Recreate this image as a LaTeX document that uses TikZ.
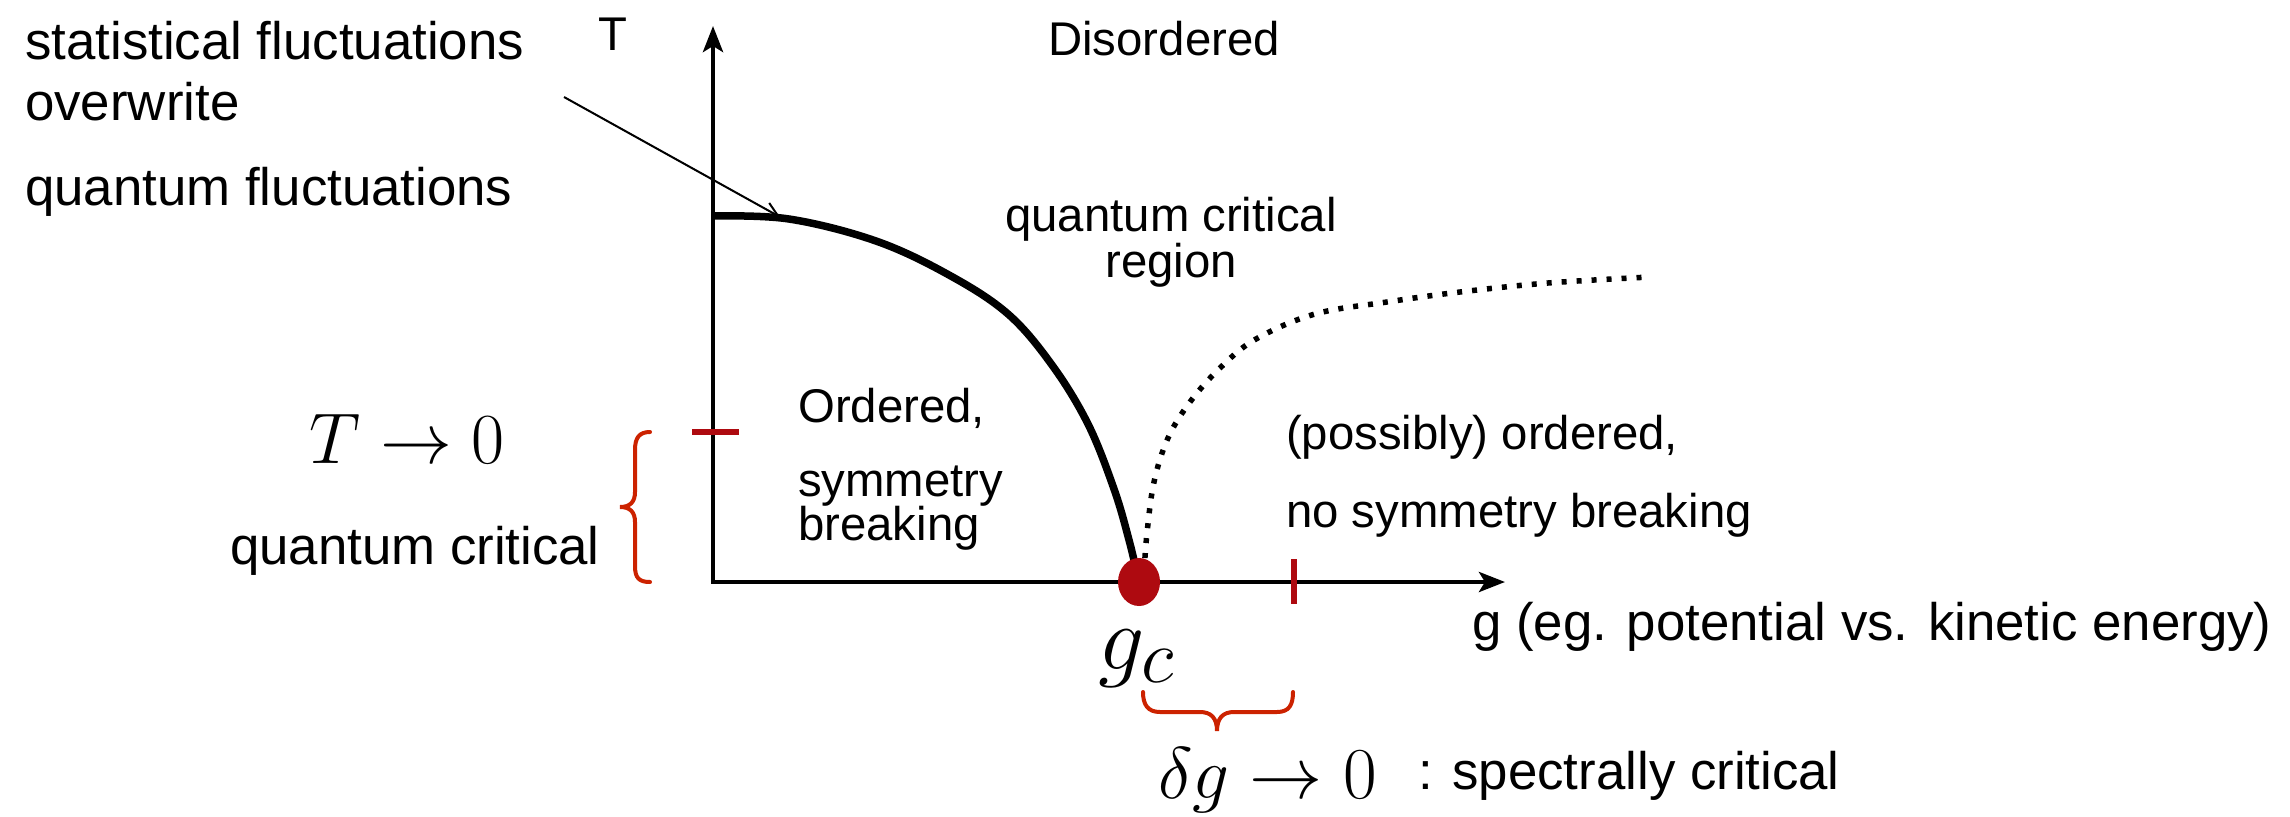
\documentclass[tikz,border=0pt]{standalone}
\usepackage{graphicx}
\usepackage{fontspec}
\setmainfont{Liberation Sans}
\usetikzlibrary{arrows.meta,shapes.geometric}
\definecolor{dred}{HTML}{AE0A10}
\definecolor{bred}{HTML}{CC2200}
\newcommand{\bigmath}[2]{\scalebox{#1}{\fontsize{24.88}{28}\selectfont$#2$}}
\begin{document}
\begin{tikzpicture}[x=1bp,y=-1bp,
  lbl/.style={inner sep=0pt, font=\fontsize{47.5}{52}\selectfont},
  big/.style={inner sep=0pt, font=\fontsize{53}{58}\selectfont},
  mth/.style={inner sep=0pt},
  axis/.style={line width=4.5bp, {Stealth[length=26bp,width=20bp,inset=6bp]}-{Stealth[length=26bp,width=20bp,inset=6bp]}},
  phase/.style={line width=7.5bp},
  crossover/.style={line width=5.5bp, dash pattern=on 5bp off 10bp},
  pointer/.style={line width=2bp, -{Straight Barb[length=14bp,width=14bp]}},
  tick/.style={line width=6bp, dred},
  brace/.style={line width=4bp, bred, line cap=round}]
\useasboundingbox (0,0) rectangle (2290,816);

% axes
\coordinate (Ttip) at (713,26);
\coordinate (O) at (713,582);
\coordinate (gtip) at (1505,582);
\draw[axis] (Ttip) -- (O) -- (gtip);

% phase boundary
\coordinate (pb0) at (713,216);
\coordinate (gc) at (1139,582);
\draw[phase] plot[smooth, tension=0.6] coordinates {(pb0) (789,219) (876,241) (949,275) (1008,314) (1052,365) (1088,424) (1114,489) (1129,540) (gc)};

% crossover (dotted)
\draw[crossover] plot[smooth, tension=0.6] coordinates {(1144,573) (1147,533) (1154,482) (1168,438) (1190,402) (1220,368) (1256,339) (1315,314) (1387,302) (1460,292) (1548,283) (1650,277)};

% critical point
\node[ellipse, fill=dred, minimum width=42bp, minimum height=48bp, inner sep=0pt] (gcdot) at (gc) {};

% ticks
\draw[tick] (692,432) -- (739,432);
\draw[tick] (1294,559) -- (1294,604);

% left brace
\draw[brace] (650,432) .. controls (639,432) and (635,438) .. (635,450) -- (635,492) .. controls (635,502) and (630,507) .. (620,507) .. controls (630,507) and (635,512) .. (635,522) -- (635,566) .. controls (635,578) and (639,582) .. (650,582);

% bottom brace
\draw[brace] (1143,692) .. controls (1143,705) and (1148,712) .. (1160,712) -- (1200,712) .. controls (1211,712) and (1217,718) .. (1217,731) .. controls (1217,718) and (1223,712) .. (1234,712) -- (1277,712) .. controls (1289,712) and (1293,705) .. (1293,692);

% texts
\node[lbl, anchor=base] (Tlab) at (613,51) {T};
\node[lbl, anchor=base] (dis) at (1164,56) {Disordered};
\node[big, anchor=base west] (s1) at (25,60) {statistical fluctuations};
\node[big, anchor=base west] (s2) at (25,120) {overwrite};
\node[big, anchor=base west] (s3) at (25,205) {quantum fluctuations};
\node[lbl, anchor=base] (qc1) at (1171,231) {quantum critical};
\node[lbl, anchor=base] (qc2) at (1171,277) {region};
\node[lbl, anchor=base west] (ord1) at (798,422) {Ordered,};
\node[lbl, anchor=base west] (ord2) at (798,496) {symmetry};
\node[lbl, anchor=base west] (ord3) at (798,540) {breaking};
\node[lbl, anchor=base west] (po1) at (1286,449) {(possibly) ordered,};
\node[lbl, anchor=base west] (po2) at (1286,527) {no symmetry breaking};
\node[big, anchor=base west] (glab) at (1472,640) {g (eg. potential vs. kinetic energy)};
\node[big, anchor=base east] (qcl) at (600,564) {quantum critical};
\node[mth, anchor=base] (Tz) at (407,463) {\bigmath{2.9}{T\rightarrow 0}};
\node[mth, anchor=base] (gcl) at (1137,669) {\bigmath{3.7}{g_c}};
\node[mth, anchor=base west] (dg) at (1158,798) {\bigmath{2.95}{\delta g\rightarrow 0}};
\node[big, anchor=base west] (spec) at (1418,789) {: spectrally critical};

% pointer arrow
\coordinate (pstart) at (564,97);
\coordinate (pend) at (780,217);
\draw[pointer] (pstart) -- (pend);
\end{tikzpicture}
\end{document}
